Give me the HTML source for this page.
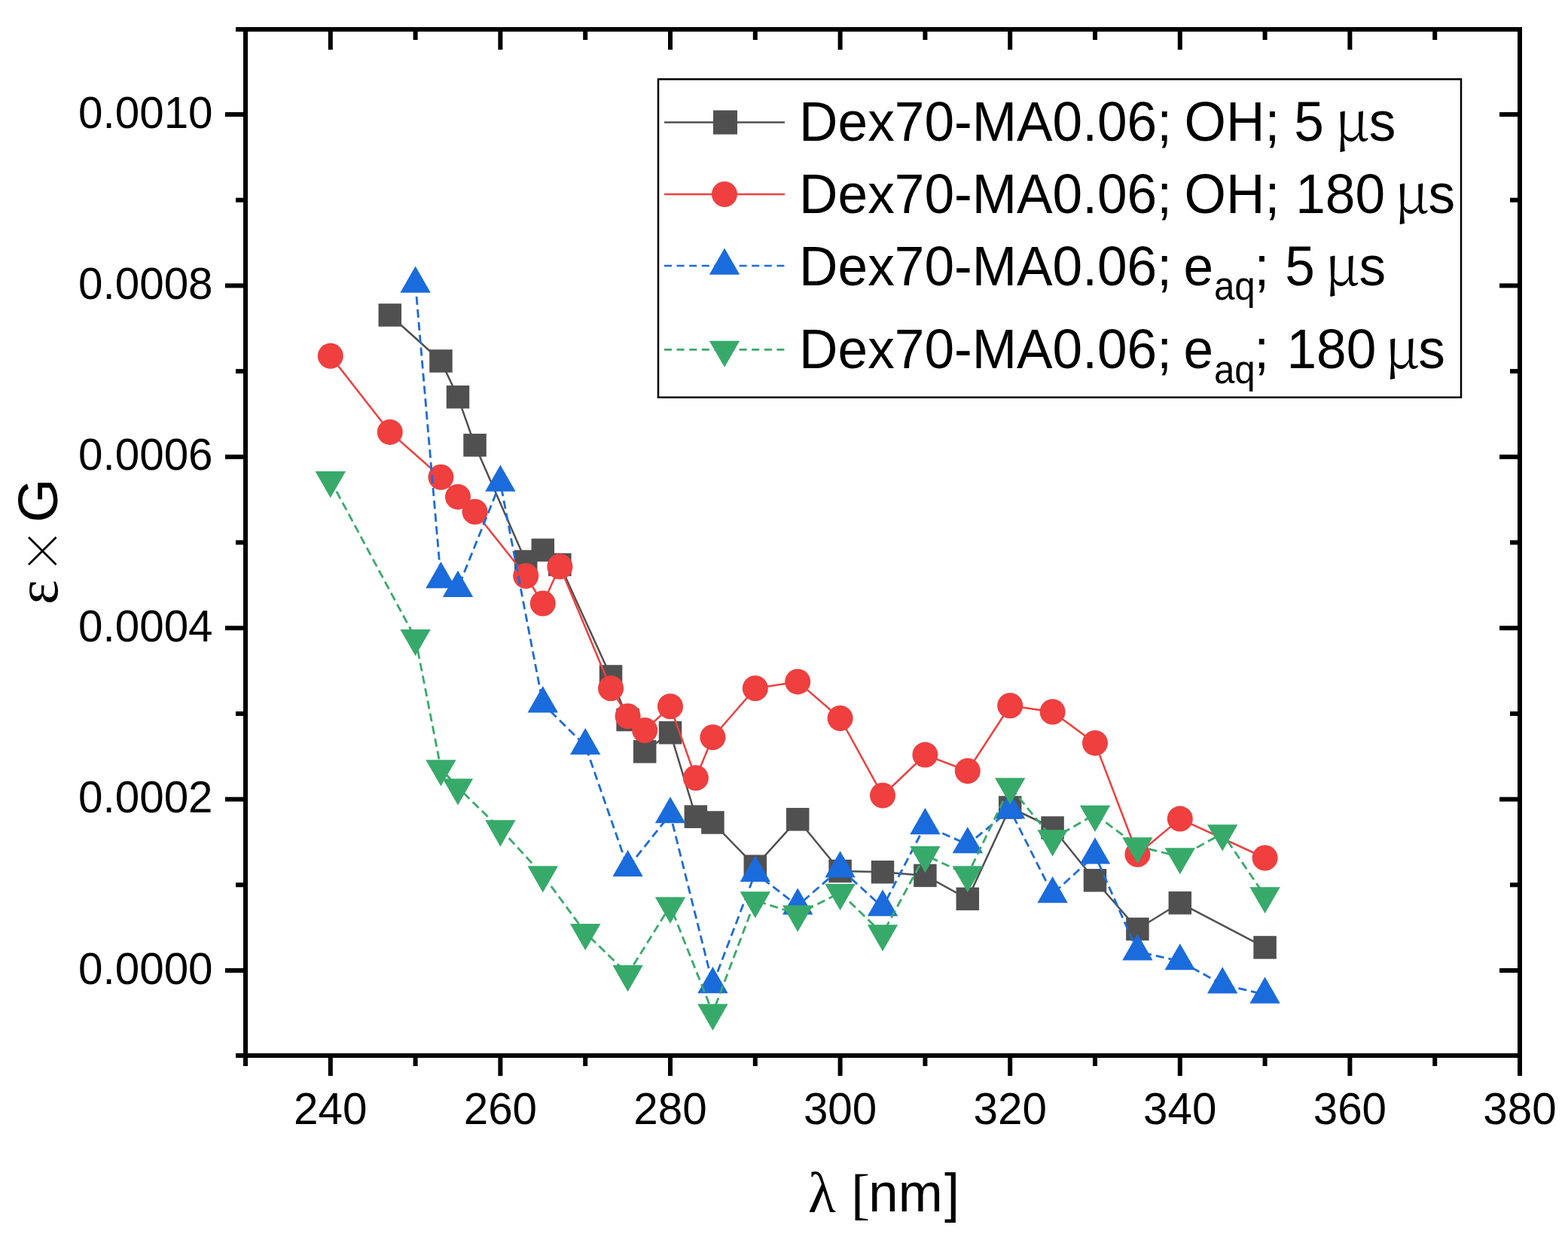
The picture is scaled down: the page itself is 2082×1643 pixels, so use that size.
<!DOCTYPE html>
<html><head><meta charset="utf-8"><title>Dex70-MA0.06 spectra</title>
<style>
html,body{margin:0;padding:0;background:#fff;}
body{width:2082px;height:1643px;overflow:hidden;}
svg{display:block;}
text{font-family:"Liberation Sans",Arial,sans-serif;fill:#000;}
.ser{font-family:"Liberation Serif","Times New Roman",serif;}
.cjk{font-family:"Noto Serif CJK SC","Liberation Serif",serif;}
</style></head><body>
<svg width="2082" height="1643" viewBox="0 0 2082 1643">
<rect width="2082" height="1643" fill="#fff"/>

<g><polyline points="517.76,418.5 585.44,479.5 608,527.3 630.56,591.3 698.24,745.8 720.8,730.6 743.36,750 811.04,898.5 833.6,956 856.16,998.3 890,973.2 923.84,1084.7 946.4,1092.5 1002.8,1150.7 1059.2,1088.3 1115.6,1157 1172,1158.3 1228.4,1162.9 1284.8,1193.9 1341.2,1072.5 1397.6,1099.5 1454,1169.3 1510.4,1234 1566.8,1199.3 1679.6,1258.4" fill="none" stroke="#505050" stroke-width="2.5" stroke-linejoin="round"/>
<g fill="#505050"><rect x="502.51" y="403.25" width="30.5" height="30.5"/><rect x="570.19" y="464.25" width="30.5" height="30.5"/><rect x="592.75" y="512.05" width="30.5" height="30.5"/><rect x="615.31" y="576.05" width="30.5" height="30.5"/><rect x="682.99" y="730.55" width="30.5" height="30.5"/><rect x="705.55" y="715.35" width="30.5" height="30.5"/><rect x="728.11" y="734.75" width="30.5" height="30.5"/><rect x="795.79" y="883.25" width="30.5" height="30.5"/><rect x="818.35" y="940.75" width="30.5" height="30.5"/><rect x="840.91" y="983.05" width="30.5" height="30.5"/><rect x="874.75" y="957.95" width="30.5" height="30.5"/><rect x="908.59" y="1069.45" width="30.5" height="30.5"/><rect x="931.15" y="1077.25" width="30.5" height="30.5"/><rect x="987.55" y="1135.45" width="30.5" height="30.5"/><rect x="1043.95" y="1073.05" width="30.5" height="30.5"/><rect x="1100.35" y="1141.75" width="30.5" height="30.5"/><rect x="1156.75" y="1143.05" width="30.5" height="30.5"/><rect x="1213.15" y="1147.65" width="30.5" height="30.5"/><rect x="1269.55" y="1178.65" width="30.5" height="30.5"/><rect x="1325.95" y="1057.25" width="30.5" height="30.5"/><rect x="1382.35" y="1084.25" width="30.5" height="30.5"/><rect x="1438.75" y="1154.05" width="30.5" height="30.5"/><rect x="1495.15" y="1218.75" width="30.5" height="30.5"/><rect x="1551.55" y="1184.05" width="30.5" height="30.5"/><rect x="1664.35" y="1243.15" width="30.5" height="30.5"/></g></g>
<g><polyline points="438.8,472.8 517.76,573.9 585.44,633.8 608,659.9 630.56,679.8 698.24,765 720.8,801.5 743.36,752.5 811.04,914.2 833.6,951.3 856.16,970 890,938.3 923.84,1033.3 946.4,979.3 1002.8,914.2 1059.2,905.4 1115.6,954 1172,1056.5 1228.4,1002.6 1284.8,1024 1341.2,937.3 1397.6,945.5 1454,986.9 1510.4,1134.7 1566.8,1087.6 1679.6,1139.5" fill="none" stroke="#ef3f3f" stroke-width="2.5" stroke-linejoin="round"/>
<g fill="#ef3f3f"><circle cx="438.8" cy="472.8" r="17"/><circle cx="517.76" cy="573.9" r="17"/><circle cx="585.44" cy="633.8" r="17"/><circle cx="608" cy="659.9" r="17"/><circle cx="630.56" cy="679.8" r="17"/><circle cx="698.24" cy="765" r="17"/><circle cx="720.8" cy="801.5" r="17"/><circle cx="743.36" cy="752.5" r="17"/><circle cx="811.04" cy="914.2" r="17"/><circle cx="833.6" cy="951.3" r="17"/><circle cx="856.16" cy="970" r="17"/><circle cx="890" cy="938.3" r="17"/><circle cx="923.84" cy="1033.3" r="17"/><circle cx="946.4" cy="979.3" r="17"/><circle cx="1002.8" cy="914.2" r="17"/><circle cx="1059.2" cy="905.4" r="17"/><circle cx="1115.6" cy="954" r="17"/><circle cx="1172" cy="1056.5" r="17"/><circle cx="1228.4" cy="1002.6" r="17"/><circle cx="1284.8" cy="1024" r="17"/><circle cx="1341.2" cy="937.3" r="17"/><circle cx="1397.6" cy="945.5" r="17"/><circle cx="1454" cy="986.9" r="17"/><circle cx="1510.4" cy="1134.7" r="17"/><circle cx="1566.8" cy="1087.6" r="17"/><circle cx="1679.6" cy="1139.5" r="17"/></g></g>
<g><polyline points="551.6,377 585.44,769.5 608,781.3 664.4,641 720.8,934.8 777.2,990.5 833.6,1152.5 890,1081.6 946.4,1307.5 1002.8,1159.6 1059.2,1203 1115.6,1153.7 1172,1205 1228.4,1096.5 1284.8,1121.6 1341.2,1075.7 1397.6,1187.5 1454,1135.8 1510.4,1263.8 1566.8,1276.6 1623.2,1307.7 1679.6,1320.9" fill="none" stroke="#1a6bdc" stroke-width="2.8" stroke-linejoin="round" stroke-dasharray="11 6"/>
<g fill="#1a6bdc"><polygon points="551.6,353.53 571.8,388.73 531.4,388.73"/><polygon points="585.44,746.03 605.64,781.23 565.24,781.23"/><polygon points="608,757.83 628.2,793.03 587.8,793.03"/><polygon points="664.4,617.53 684.6,652.73 644.2,652.73"/><polygon points="720.8,911.33 741,946.53 700.6,946.53"/><polygon points="777.2,967.03 797.4,1002.23 757,1002.23"/><polygon points="833.6,1129.03 853.8,1164.23 813.4,1164.23"/><polygon points="890,1058.13 910.2,1093.33 869.8,1093.33"/><polygon points="946.4,1284.03 966.6,1319.23 926.2,1319.23"/><polygon points="1002.8,1136.13 1023,1171.33 982.6,1171.33"/><polygon points="1059.2,1179.53 1079.4,1214.73 1039,1214.73"/><polygon points="1115.6,1130.23 1135.8,1165.43 1095.4,1165.43"/><polygon points="1172,1181.53 1192.2,1216.73 1151.8,1216.73"/><polygon points="1228.4,1073.03 1248.6,1108.23 1208.2,1108.23"/><polygon points="1284.8,1098.13 1305,1133.33 1264.6,1133.33"/><polygon points="1341.2,1052.23 1361.4,1087.43 1321,1087.43"/><polygon points="1397.6,1164.03 1417.8,1199.23 1377.4,1199.23"/><polygon points="1454,1112.33 1474.2,1147.53 1433.8,1147.53"/><polygon points="1510.4,1240.33 1530.6,1275.53 1490.2,1275.53"/><polygon points="1566.8,1253.13 1587,1288.33 1546.6,1288.33"/><polygon points="1623.2,1284.23 1643.4,1319.43 1603,1319.43"/><polygon points="1679.6,1297.43 1699.8,1332.63 1659.4,1332.63"/></g></g>
<g><polyline points="438.8,637.8 551.6,847.8 585.44,1020.9 608,1046 664.4,1101 720.8,1162.1 777.2,1238.8 833.6,1293.8 890,1203.2 946.4,1345.2 1002.8,1196 1059.2,1214.2 1115.6,1185.8 1172,1240.1 1228.4,1135.7 1284.8,1161.9 1341.2,1045 1397.6,1114 1454,1081.6 1510.4,1123.9 1566.8,1137.9 1623.2,1107 1679.6,1189.9" fill="none" stroke="#37aa6a" stroke-width="2.8" stroke-linejoin="round" stroke-dasharray="11 6"/>
<g fill="#37aa6a"><polygon points="418.6,626.07 459,626.07 438.8,661.27"/><polygon points="531.4,836.07 571.8,836.07 551.6,871.27"/><polygon points="565.24,1009.17 605.64,1009.17 585.44,1044.37"/><polygon points="587.8,1034.27 628.2,1034.27 608,1069.47"/><polygon points="644.2,1089.27 684.6,1089.27 664.4,1124.47"/><polygon points="700.6,1150.37 741,1150.37 720.8,1185.57"/><polygon points="757,1227.07 797.4,1227.07 777.2,1262.27"/><polygon points="813.4,1282.07 853.8,1282.07 833.6,1317.27"/><polygon points="869.8,1191.47 910.2,1191.47 890,1226.67"/><polygon points="926.2,1333.47 966.6,1333.47 946.4,1368.67"/><polygon points="982.6,1184.27 1023,1184.27 1002.8,1219.47"/><polygon points="1039,1202.47 1079.4,1202.47 1059.2,1237.67"/><polygon points="1095.4,1174.07 1135.8,1174.07 1115.6,1209.27"/><polygon points="1151.8,1228.37 1192.2,1228.37 1172,1263.57"/><polygon points="1208.2,1123.97 1248.6,1123.97 1228.4,1159.17"/><polygon points="1264.6,1150.17 1305,1150.17 1284.8,1185.37"/><polygon points="1321,1033.27 1361.4,1033.27 1341.2,1068.47"/><polygon points="1377.4,1102.27 1417.8,1102.27 1397.6,1137.47"/><polygon points="1433.8,1069.87 1474.2,1069.87 1454,1105.07"/><polygon points="1490.2,1112.17 1530.6,1112.17 1510.4,1147.37"/><polygon points="1546.6,1126.17 1587,1126.17 1566.8,1161.37"/><polygon points="1603,1095.27 1643.4,1095.27 1623.2,1130.47"/><polygon points="1659.4,1178.17 1699.8,1178.17 1679.6,1213.37"/></g></g>
<g fill="#000">
<rect x="313" y="36" width="1708" height="6"/>
<rect x="313" y="1399" width="1708" height="6"/>
<rect x="323" y="36" width="6" height="1380"/>
<rect x="2015" y="36" width="6" height="1393"/>
<rect x="299" y="1286" width="24" height="6"/>
<rect x="1991" y="1286" width="24" height="6"/>
<rect x="313" y="1172.3" width="10" height="6"/>
<rect x="2005" y="1172.3" width="10" height="6"/>
<rect x="299" y="1058.6" width="24" height="6"/>
<rect x="1991" y="1058.6" width="24" height="6"/>
<rect x="313" y="944.9" width="10" height="6"/>
<rect x="2005" y="944.9" width="10" height="6"/>
<rect x="299" y="831.2" width="24" height="6"/>
<rect x="1991" y="831.2" width="24" height="6"/>
<rect x="313" y="717.5" width="10" height="6"/>
<rect x="2005" y="717.5" width="10" height="6"/>
<rect x="299" y="603.8" width="24" height="6"/>
<rect x="1991" y="603.8" width="24" height="6"/>
<rect x="313" y="490.1" width="10" height="6"/>
<rect x="2005" y="490.1" width="10" height="6"/>
<rect x="299" y="376.4" width="24" height="6"/>
<rect x="1991" y="376.4" width="24" height="6"/>
<rect x="313" y="262.7" width="10" height="6"/>
<rect x="2005" y="262.7" width="10" height="6"/>
<rect x="299" y="149" width="24" height="6"/>
<rect x="1991" y="149" width="24" height="6"/>
<rect x="435.8" y="1405" width="6" height="24"/>
<rect x="435.8" y="42" width="6" height="24"/>
<rect x="548.6" y="1405" width="6" height="11"/>
<rect x="548.6" y="42" width="6" height="11"/>
<rect x="661.4" y="1405" width="6" height="24"/>
<rect x="661.4" y="42" width="6" height="24"/>
<rect x="774.2" y="1405" width="6" height="11"/>
<rect x="774.2" y="42" width="6" height="11"/>
<rect x="887" y="1405" width="6" height="24"/>
<rect x="887" y="42" width="6" height="24"/>
<rect x="999.8" y="1405" width="6" height="11"/>
<rect x="999.8" y="42" width="6" height="11"/>
<rect x="1112.6" y="1405" width="6" height="24"/>
<rect x="1112.6" y="42" width="6" height="24"/>
<rect x="1225.4" y="1405" width="6" height="11"/>
<rect x="1225.4" y="42" width="6" height="11"/>
<rect x="1338.2" y="1405" width="6" height="24"/>
<rect x="1338.2" y="42" width="6" height="24"/>
<rect x="1451" y="1405" width="6" height="11"/>
<rect x="1451" y="42" width="6" height="11"/>
<rect x="1563.8" y="1405" width="6" height="24"/>
<rect x="1563.8" y="42" width="6" height="24"/>
<rect x="1676.6" y="1405" width="6" height="11"/>
<rect x="1676.6" y="42" width="6" height="11"/>
<rect x="1789.4" y="1405" width="6" height="24"/>
<rect x="1789.4" y="42" width="6" height="24"/>
<rect x="1902.2" y="1405" width="6" height="11"/>
<rect x="1902.2" y="42" width="6" height="11"/>
</g>
<g font-size="58.4" text-anchor="middle">
<text x="438.8" y="1493">240</text>
<text x="664.4" y="1493">260</text>
<text x="890" y="1493">280</text>
<text x="1115.6" y="1493">300</text>
<text x="1341.2" y="1493">320</text>
<text x="1566.8" y="1493">340</text>
<text x="1792.4" y="1493">360</text>
<text x="2018" y="1493">380</text>
</g>
<g font-size="58.4" text-anchor="end">
<text x="282.6" y="1306.5">0.0000</text>
<text x="282.6" y="1079.1">0.0002</text>
<text x="282.6" y="851.7">0.0004</text>
<text x="282.6" y="624.3">0.0006</text>
<text x="282.6" y="396.9">0.0008</text>
<text x="282.6" y="169.5">0.0010</text>
</g>
<text x="1073" y="1609.5" font-size="76" class="ser">λ</text>
<text x="1130" y="1611" font-size="75" class="ser">[</text>
<text transform="translate(1153.3,1609) scale(0.97,1)" font-size="73">nm</text>
<text x="1254" y="1609" font-size="72">]</text>
<text transform="translate(76,693.9) rotate(-90)" font-size="75">G</text>
<text transform="translate(78.6,763.2) rotate(-90)" font-size="63" class="cjk">×</text>
<text transform="translate(75.5,803.1) rotate(-90)" font-size="78" class="ser">ε</text>
<rect x="874" y="105.2" width="1066" height="422.6" fill="#fff" stroke="#000" stroke-width="2.5"/>
<line x1="882" y1="162.5" x2="1042" y2="162.5" stroke="#505050" stroke-width="2.7"/>
<g fill="#505050"><rect x="947" y="146.5" width="32" height="32"/></g>
<text transform="translate(1061.1,187) scale(0.95,1)" font-size="75">Dex70-MA0.06;</text>
<text transform="translate(1572.6,187) scale(0.95,1)" font-size="75">OH;</text>
<text transform="translate(1718.2,187) scale(0.95,1)" font-size="75">5</text>
<text transform="translate(1772.3,187) scale(1,1)" font-size="73" class="cjk">μ</text>
<text transform="translate(1817.8,187) scale(0.95,1)" font-size="75">s</text>
<line x1="882" y1="258" x2="1042" y2="258" stroke="#ef3f3f" stroke-width="2.7"/>
<g fill="#ef3f3f"><circle cx="962" cy="258" r="17"/></g>
<text transform="translate(1061.1,283) scale(0.95,1)" font-size="75">Dex70-MA0.06;</text>
<text transform="translate(1572.6,283) scale(0.95,1)" font-size="75">OH;</text>
<text transform="translate(1720.2,283) scale(0.95,1)" font-size="75">180</text>
<text transform="translate(1851.5,283) scale(1,1)" font-size="73" class="cjk">μ</text>
<text transform="translate(1896.5,283) scale(0.95,1)" font-size="75">s</text>
<line x1="882" y1="353" x2="1042" y2="353" stroke="#1a6bdc" stroke-width="2.7" stroke-dasharray="10 6.6"/>
<g fill="#1a6bdc"><polygon points="962,329.53 982.2,364.73 941.8,364.73"/></g>
<text transform="translate(1061.1,378.7) scale(0.95,1)" font-size="75">Dex70-MA0.06;</text>
<text transform="translate(1571.4,378.7) scale(0.95,1)" font-size="75">e</text>
<text transform="translate(1665.6,378.7) scale(0.95,1)" font-size="75">;</text>
<text transform="translate(1706.2,378.7) scale(0.95,1)" font-size="75">5</text>
<text transform="translate(1611.9,398) scale(0.95,1)" font-size="52">aq</text>
<text transform="translate(1759.1,378.7) scale(1,1)" font-size="73" class="cjk">μ</text>
<text transform="translate(1804.6,378.7) scale(0.95,1)" font-size="75">s</text>
<line x1="882" y1="464.4" x2="1042" y2="464.4" stroke="#37aa6a" stroke-width="2.7" stroke-dasharray="10 6.6"/>
<g fill="#37aa6a"><polygon points="941.8,452.67 982.2,452.67 962,487.87"/></g>
<text transform="translate(1061.1,489.2) scale(0.95,1)" font-size="75">Dex70-MA0.06;</text>
<text transform="translate(1571.6,489.2) scale(0.95,1)" font-size="75">e</text>
<text transform="translate(1665.2,489.2) scale(0.95,1)" font-size="75">;</text>
<text transform="translate(1708.5,489.2) scale(0.95,1)" font-size="75">180</text>
<text transform="translate(1611.9,508.5) scale(0.95,1)" font-size="52">aq</text>
<text transform="translate(1838.8,489.2) scale(1,1)" font-size="73" class="cjk">μ</text>
<text transform="translate(1883.2,489.2) scale(0.95,1)" font-size="75">s</text>
</svg>
</body></html>
